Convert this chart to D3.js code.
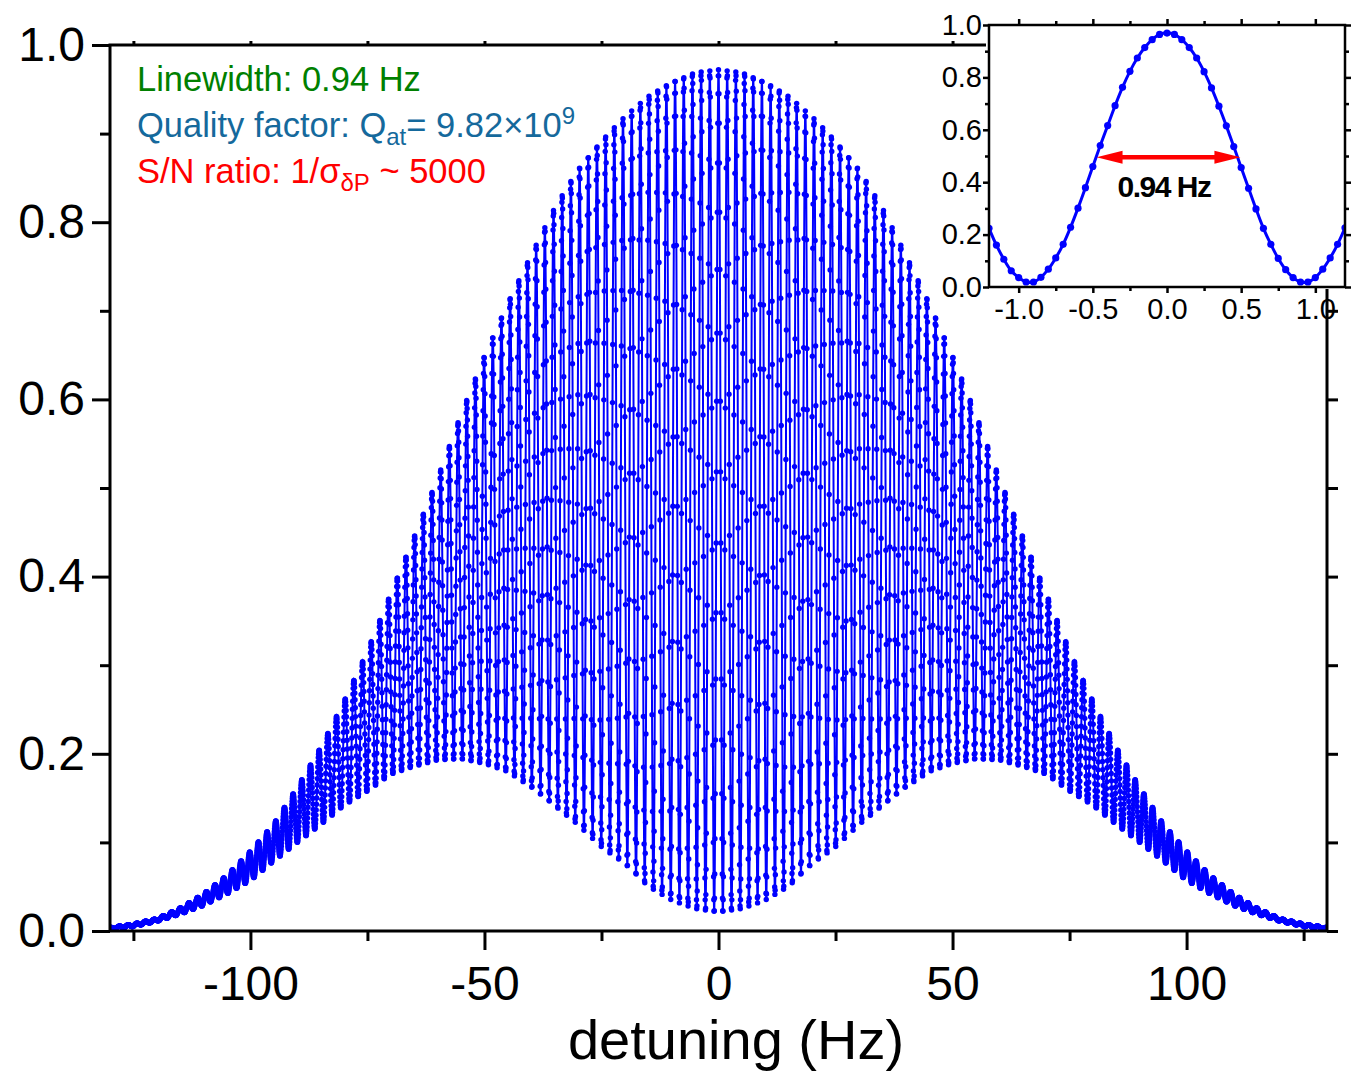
<!DOCTYPE html>
<html><head><meta charset="utf-8">
<script src="https://cdn.jsdelivr.net/npm/d3@7"></script>
<style>body{margin:0;background:#fff} svg text{font-family:"Liberation Sans",Arial,Helvetica,sans-serif}</style>
</head><body><svg id="c" width="1355" height="1081"></svg>
<script>
// ---------- data ----------
// main plot: envelope of the Ramsey fringes (|detuning| in Hz)
const envDetuning = [0,5,10,15,20,25,30,35,40,45,50,55,60,65,70,75,80,85,90,95,100,105,110,115,120,125,130];
const envUpper    = [0.972,0.969,0.959,0.942,0.919,0.892,0.860,0.816,0.763,0.709,0.649,0.583,0.511,0.445,0.381,0.316,0.259,0.207,0.162,0.121,0.090,0.063,0.042,0.026,0.014,0.008,0.004];
const envLower    = [0.020,0.025,0.035,0.050,0.075,0.095,0.120,0.141,0.162,0.180,0.189,0.194,0.193,0.186,0.177,0.158,0.142,0.120,0.100,0.079,0.057,0.042,0.029,0.019,0.011,0.005,0.002];
const fringePeriod = 1.855;   // Hz, spacing of fringes
const sampleStep = 0.05;      // Hz, spacing of the measured points
const detuningRange = [-130, 130];
const xTicksMain = [-100,-50,0,50,100];
const xMinorMain = [-125,-75,-25,25,75,125];
const yTicksMain = [0,0.2,0.4,0.6,0.8,1.0];
const yMinorMain = [0.1,0.3,0.5,0.7,0.9];

// inset: central fringe
const insetDetuning = [-1.2,-1.15,-1.1,-1.05,-1.0,-0.95,-0.9,-0.85,-0.8,-0.75,-0.7,-0.65,-0.6,-0.55,-0.5,-0.45,-0.4,-0.35,-0.3,-0.25,-0.2,-0.15,-0.1,-0.05,0,0.05,0.1,0.15,0.2,0.25,0.3,0.35,0.4,0.45,0.5,0.55,0.6,0.65,0.7,0.75,0.8,0.85,0.9,0.95,1.0,1.05,1.1,1.15,1.2];
const insetSignal = [0.224,0.160,0.106,0.062,0.036,0.019,0.019,0.037,0.068,0.111,0.163,0.228,0.301,0.379,0.460,0.540,0.616,0.692,0.762,0.823,0.874,0.914,0.944,0.964,0.969,0.964,0.944,0.914,0.874,0.822,0.760,0.690,0.615,0.536,0.456,0.377,0.298,0.224,0.163,0.109,0.066,0.036,0.019,0.019,0.036,0.068,0.111,0.163,0.226];
const insetXTicks = [-1.0,-0.5,0.0,0.5,1.0];
const insetXMinor = [-0.75,-0.25,0.25,0.75];
const insetYTicks = [0,0.2,0.4,0.6,0.8,1.0];
const insetYMinor = [0.1,0.3,0.5,0.7,0.9];
const insetArrowEnds = [-0.475, 0.495];
const insetArrowLevel = 0.495;
const insetLabel = "0.94 Hz";

// ---------- drawing ----------
const svg = d3.select('#c');
const blue = '#0000ff';
const M = {l:110, r:1327, t:45, b:931};
const x = d3.scaleLinear().domain(detuningRange).range([M.l, M.r]);
const y = d3.scaleLinear().domain([0,1]).range([M.b, M.t]);

const upperAt = d3.scaleLinear().domain(envDetuning).range(envUpper).clamp(true);
const lowerAt = d3.scaleLinear().domain(envDetuning).range(envLower).clamp(true);
const nHalf = Math.round(detuningRange[1]/sampleStep);
const mainData = d3.range(-nHalf, nHalf+1).map(i => {
  const f = i*sampleStep, a = Math.abs(f);
  const hi = upperAt(a), lo = lowerAt(a);
  return [f, lo + (hi-lo)*(1+Math.cos(2*Math.PI*f/fringePeriod))/2];
});

svg.append('defs').append('clipPath').attr('id','clipMain')
  .append('rect').attr('x',M.l-1).attr('y',M.t-1).attr('width',M.r-M.l+2).attr('height',M.b-M.t+2);

const gData = svg.append('g').attr('clip-path','url(#clipMain)');
gData.append('path').datum(mainData)
  .attr('d', d3.line().x(d=>x(d[0])).y(d=>y(d[1])))
  .attr('fill','none').attr('stroke',blue).attr('stroke-width',2);
gData.append('g').selectAll('circle').data(mainData).join('circle')
  .attr('cx',d=>x(d[0])).attr('cy',d=>y(d[1])).attr('r',2.7).attr('fill',blue);

function styleAxis(g, fs){
  g.select('.domain').remove();
  g.selectAll('.tick line').attr('stroke','#000').attr('stroke-width',3);
  g.attr('font-size',fs).attr('fill','#000');
  g.selectAll('.tick text').attr('fill','#000');
}
// bottom
svg.append('g').attr('transform',`translate(0,${M.b})`)
  .call(d3.axisBottom(x).tickValues(xTicksMain).tickSize(19).tickPadding(16).tickFormat(d=>String(d)))
  .call(g=>styleAxis(g,48));
svg.append('g').attr('transform',`translate(0,${M.b})`)
  .call(d3.axisBottom(x).tickValues(xMinorMain).tickSize(10).tickFormat(''))
  .call(g=>styleAxis(g,48));
// top
svg.append('g').attr('transform',`translate(0,${M.t})`)
  .call(d3.axisTop(x).tickValues(xTicksMain.concat(xMinorMain)).tickSize(4).tickFormat(''))
  .call(g=>styleAxis(g,48));
// left
svg.append('g').attr('transform',`translate(${M.l},0)`)
  .call(d3.axisLeft(y).tickValues(yTicksMain).tickSize(18).tickPadding(7).tickFormat(d=>d3.format('.1f')(d)))
  .call(g=>styleAxis(g,48));
svg.append('g').attr('transform',`translate(${M.l},0)`)
  .call(d3.axisLeft(y).tickValues(yMinorMain).tickSize(10).tickFormat(''))
  .call(g=>styleAxis(g,48));
// right
svg.append('g').attr('transform',`translate(${M.r},0)`)
  .call(d3.axisRight(y).tickValues(yTicksMain.concat(yMinorMain)).tickSize(11).tickFormat(''))
  .call(g=>styleAxis(g,48));
// frame
svg.append('rect').attr('x',M.l).attr('y',M.t).attr('width',M.r-M.l).attr('height',M.b-M.t)
  .attr('fill','none').attr('stroke','#000').attr('stroke-width',3);

// axis title
svg.append('text').attr('x',736).attr('y',1059).attr('text-anchor','middle')
  .attr('font-size',56).attr('fill','#000').text('detuning (Hz)');

// annotations
const fsA = 34.5, fsS = 24;
const t1 = svg.append('text').attr('x',137).attr('y',91).attr('font-size',fsA).attr('fill','#008000');
t1.text('Linewidth: 0.94 Hz');
const t2 = svg.append('text').attr('x',137).attr('y',137).attr('font-size',fsA).attr('fill','#15699c');
t2.append('tspan').text('Quality factor: Q');
t2.append('tspan').attr('font-size',fsS).attr('dy',8).text('at');
t2.append('tspan').attr('dy',-8).text('= 9.82\u00d710');
t2.append('tspan').attr('font-size',fsS).attr('dy',-13).text('9');
const t3 = svg.append('text').attr('x',137).attr('y',183).attr('font-size',fsA).attr('fill','#ff0000');
t3.append('tspan').text('S/N ratio: 1/\u03c3');
t3.append('tspan').attr('font-size',fsS).attr('dy',8).text('\u03b4P');
t3.append('tspan').attr('dy',-8).text(' ~ 5000');

// ---------- inset ----------
const I = {l:989, r:1345, t:25, b:287};
const xi = d3.scaleLinear().domain([-1.2,1.2]).range([I.l, I.r]);
const yi = d3.scaleLinear().domain([0,1]).range([I.b, I.t]);
svg.append('rect').attr('x',I.l-3).attr('y',I.t-3).attr('width',I.r-I.l+6).attr('height',I.b-I.t+5).attr('fill','#fff');

svg.append('defs').append('clipPath').attr('id','clipIn')
  .append('rect').attr('x',I.l).attr('y',I.t).attr('width',I.r-I.l).attr('height',I.b-I.t);
const gi = svg.append('g').attr('clip-path','url(#clipIn)');
const insetData = insetDetuning.map((d,i)=>[d, insetSignal[i]]);
gi.append('path').datum(insetData).attr('d', d3.line().curve(d3.curveCatmullRom).x(d=>xi(d[0])).y(d=>yi(d[1])))
  .attr('fill','none').attr('stroke',blue).attr('stroke-width',3);
gi.selectAll('circle').data(insetData).join('circle')
  .attr('cx',d=>xi(d[0])).attr('cy',d=>yi(d[1])).attr('r',3.6).attr('fill',blue);

function styleIn(g){
  g.select('.domain').remove();
  g.selectAll('.tick line').attr('stroke','#000').attr('stroke-width',2.5);
  g.attr('font-size',29).attr('fill','#000');
  g.selectAll('.tick text').attr('fill','#000');
}
svg.append('g').attr('transform',`translate(0,${I.b})`)
  .call(d3.axisBottom(xi).tickValues(insetXTicks).tickSize(6).tickPadding(5).tickFormat(d=>d3.format('.1f')(d).replace('\u2212','-')))
  .call(styleIn);
svg.append('g').attr('transform',`translate(0,${I.b})`)
  .call(d3.axisBottom(xi).tickValues(insetXMinor).tickSize(4).tickFormat('')).call(styleIn);
svg.append('g').attr('transform',`translate(0,${I.t})`)
  .call(d3.axisTop(xi).tickValues(insetXTicks).tickSize(6).tickFormat('')).call(styleIn);
svg.append('g').attr('transform',`translate(0,${I.t})`)
  .call(d3.axisTop(xi).tickValues(insetXMinor).tickSize(4).tickFormat('')).call(styleIn);
svg.append('g').attr('transform',`translate(${I.l},0)`)
  .call(d3.axisLeft(yi).tickValues(insetYTicks).tickSize(6).tickPadding(1).tickFormat(d=>d3.format('.1f')(d)))
  .call(styleIn);
svg.append('g').attr('transform',`translate(${I.l},0)`)
  .call(d3.axisLeft(yi).tickValues(insetYMinor).tickSize(4).tickFormat('')).call(styleIn);
svg.append('g').attr('transform',`translate(${I.r},0)`)
  .call(d3.axisRight(yi).tickValues(insetYTicks).tickSize(6).tickFormat('')).call(styleIn);
svg.append('g').attr('transform',`translate(${I.r},0)`)
  .call(d3.axisRight(yi).tickValues(insetYMinor).tickSize(4).tickFormat('')).call(styleIn);
svg.append('rect').attr('x',I.l).attr('y',I.t).attr('width',I.r-I.l).attr('height',I.b-I.t)
  .attr('fill','none').attr('stroke','#000').attr('stroke-width',2.5);

// red double arrow
const ax0 = xi(insetArrowEnds[0]), ax1 = xi(insetArrowEnds[1]), ay = yi(insetArrowLevel);
const ah = 26, aw = 6.5;
svg.append('line').attr('x1',ax0+ah-4).attr('x2',ax1-ah+4).attr('y1',ay).attr('y2',ay)
  .attr('stroke','#ff0000').attr('stroke-width',4.5);
svg.append('path').attr('fill','#ff0000')
  .attr('d',`M${ax0},${ay} L${ax0+ah},${ay-aw} L${ax0+ah},${ay+aw} Z M${ax1},${ay} L${ax1-ah},${ay-aw} L${ax1-ah},${ay+aw} Z`);
svg.append('text').attr('x',xi(-0.02)).attr('y',197).attr('text-anchor','middle')
  .attr('font-size',30).attr('font-weight','bold').attr('letter-spacing',-1.5).attr('fill','#000').text(insetLabel);
</script>
</body></html>
